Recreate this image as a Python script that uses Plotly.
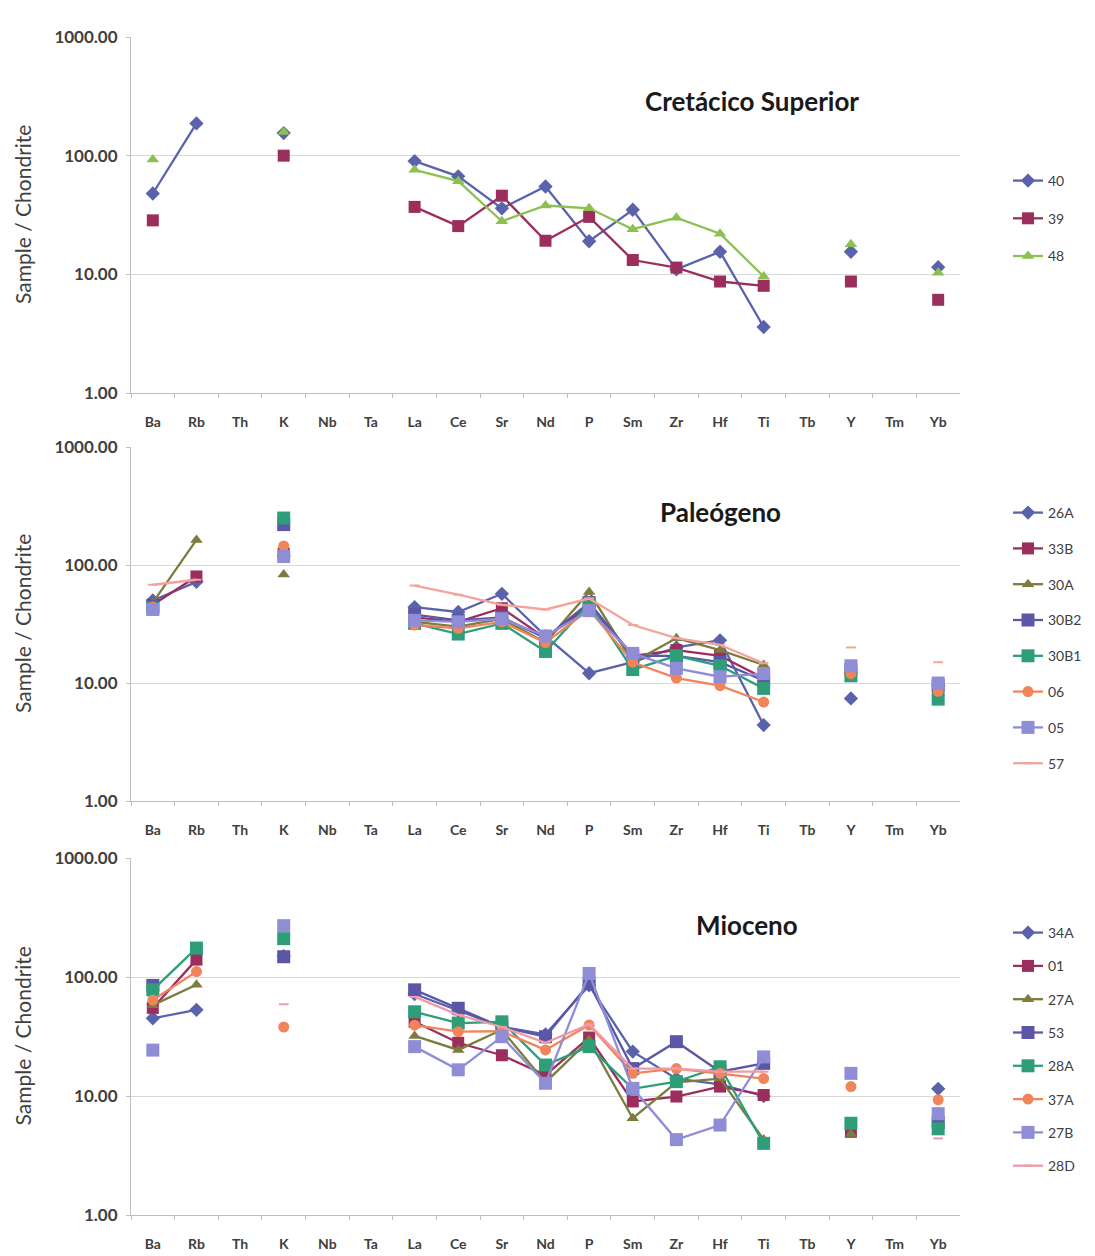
import plotly.graph_objects as go

# Trace elements normalised to chondrite
elements = ["Ba", "Rb", "Th", "K", "Nb", "Ta", "La", "Ce", "Sr", "Nd",
            "P", "Sm", "Zr", "Hf", "Ti", "Tb", "Y", "Tm", "Yb"]

y_tickvals = [1, 10, 100, 1000]
y_ticktext = ["1.00", "10.00", "100.00", "1000.00"]

# --- Cretácico Superior ---
cs_40 = [48, 187, None, 155, None, None, 90, 67, 36, 55, 19, 35, 11, 15.5, 3.6, None, 15.5, None, 11.5]
cs_39 = [28.5, None, None, 100, None, None, 37, 25.5, 46, 19.2, 30.5, 13.2, 11.4, 8.7, 8.0, None, 8.7, None, 6.1]
cs_48 = [93, None, None, 158, None, None, 76, 61, 28, 38, 36, 24, 30, 22, 9.6, None, 17.9, None, 10.3]

# --- Paleógeno ---
pg_26A = [50, 72, None, 120, None, None, 44, 40, 57, 25, 12.1, 15, 20, 23, 4.4, None, 7.4, None, 9.5]
pg_33B = [46, 80, None, 125, None, None, 36, 33, 43, 24, 45, 17, 19, 17, 11, None, 12.5, None, 8.7]
pg_30A = [48, 163, None, 83, None, None, 33, 30, 35, 22, 59, 15, 24, 19, 14.2, None, 12, None, 8.2]
pg_30B2 = [45, None, None, 220, None, None, 38, 34, 36, 24, 48, 17, 17, 15, 10.5, None, 13, None, 9.5]
pg_30B1 = [43, None, None, 250, None, None, 32, 26, 32, 18.5, 47, 13, 17, 14, 9.0, None, 11.5, None, 7.3]
pg_06 = [44, None, None, 145, None, None, 31, 29, 33, 22, 42, 15, 11, 9.5, 6.9, None, 12, None, 8.5]
pg_05 = [42, None, None, 118, None, None, 34, 33, 35, 25, 41, 17.8, 13.3, 11.3, 12, None, 14, None, 10]
pg_57 = [68, 75, None, None, None, None, 67, 56, 46, 42, 52, 31, 24, 21, 14.7, None, 20, None, 15]

# --- Mioceno ---
mi_34A = [45, 53, None, 150, None, None, 72, 52, 38, 33, 85, 23.6, 14, 12.5, 10, None, None, None, 11.5]
mi_01 = [55, 140, None, None, None, None, 42, 28, 22, 15, 31, 9, 9.9, 12, 10.2, None, 5, None, 6]
mi_27A = [58, 86, None, None, None, None, 32, 24.4, 36, 13, 29.5, 6.5, 13, 14, 4.3, None, 4.8, None, 5]
mi_53 = [85, None, None, 148, None, None, 78, 54.6, 38, 31.5, 88.5, 17, 28.6, 16, 18.8, None, None, None, 6]
mi_28A = [78, 175, None, 210, None, None, 51, 41, 42, 18.2, 26, 11.5, 13.2, 17.6, 4.0, None, 5.9, None, 5.3]
mi_37A = [64, 111, None, 38, None, None, 39.4, 34.7, 35, 24.4, 39.5, 15.5, 17, 15.5, 14, None, 12, None, 9.3]
mi_27B = [24.3, None, None, 270, None, None, 26, 16.6, 31.5, 12.8, 107, 11.6, 4.3, 5.7, 21.3, None, 15.5, None, 7.1]
mi_28D = [None, None, None, 59, None, None, 68, 48, 38, 28, 40, 17, 17, 16, 16, None, None, None, 4.4]

panel_titles = ["Cretácico Superior", "Paleógeno", "Mioceno"]

# series styles: (symbol, size, colour)
BLUE = ("diamond", 11, "#5a62ac")
MAGENTA = ("square", 12, "#9c2e5e")
LGREEN = ("triangle-up", 11, "#8cc152")
OLIVE = ("triangle-up", 11, "#7c7c3e")
PURPLE = ("square", 13, "#5b57a6")
TEAL = ("square", 13, "#2e9e78")
ORANGE = ("circle", 11, "#f0845a")
LAVENDER = ("square", 13, "#8e8dd6")
SALMON = ("line-ew", 7, "#f4a39b")
PINK = ("line-ew", 7, "#ee9ba8")

panels = [
    [("40", cs_40, BLUE), ("39", cs_39, MAGENTA), ("48", cs_48, LGREEN)],
    [("26A", pg_26A, BLUE), ("33B", pg_33B, MAGENTA), ("30A", pg_30A, OLIVE),
     ("30B2", pg_30B2, PURPLE), ("30B1", pg_30B1, TEAL), ("06", pg_06, ORANGE),
     ("05", pg_05, LAVENDER), ("57", pg_57, SALMON)],
    [("34A", mi_34A, BLUE), ("01", mi_01, MAGENTA), ("27A", mi_27A, OLIVE),
     ("53", mi_53, PURPLE), ("28A", mi_28A, TEAL), ("37A", mi_37A, ORANGE),
     ("27B", mi_27B, LAVENDER), ("28D", mi_28D, PINK)],
]

W, H = 1095, 1256


def py(y):
    """Pixel row -> paper fraction."""
    return 1 - y / H


def px(x):
    """Pixel column -> paper fraction."""
    return x / W


# plot-area boxes: (top, bottom)
boxes = [(37, 393), (447, 801), (858, 1215)]
x_left, x_right = 131, 960
legend_x = 1008
legend_tops = [165, 497, 917]
legend_gaps = [16.5, 14.6, 12.1]
title_pos = [(752, 101), (720, 512), (747, 925)]

FONT = "Lato, 'Open Sans', sans-serif"

fig = go.Figure()

for p, series in enumerate(panels):
    sfx = "" if p == 0 else str(p + 1)
    for name, vals, (sym, size, col) in series:
        is_line_only = sym == "line-ew"
        fig.add_trace(go.Scatter(
            x=elements, y=vals, name=name,
            xaxis="x" + sfx, yaxis="y" + sfx,
            legend="legend" + sfx, legendgroup=f"{p}-{name}",
            mode="lines+markers",
            line=dict(color=col, width=2.3),
            marker=dict(symbol=sym, size=size, color=col,
                        line=dict(color=col, width=2 if is_line_only else 0)),
            connectgaps=False,
        ))

layout = dict(
    width=W, height=H,
    margin=dict(l=0, r=0, t=0, b=0),
    paper_bgcolor="white", plot_bgcolor="white",
    font=dict(family=FONT, color="#404040"),
    annotations=[],
)

for p in range(3):
    sfx = "" if p == 0 else str(p + 1)
    top, bot = boxes[p]
    layout["xaxis" + sfx] = dict(
        domain=[px(x_left), px(x_right)], anchor="y" + sfx, automargin=False,
        type="category", categoryorder="array", categoryarray=elements,
        range=[-0.5, len(elements) - 0.5],
        showline=True, linecolor="#bfbfbf", linewidth=1,
        ticks="outside", tickson="boundaries", ticklen=4, tickcolor="#bfbfbf",
        ticklabelstandoff=16,
        showgrid=False, zeroline=False,
        tickfont=dict(family=FONT, size=14, color="#404040", weight="bold"),
    )
    layout["yaxis" + sfx] = dict(
        domain=[py(bot), py(top)], anchor="x" + sfx, automargin=False,
        type="log", range=[0, 3],
        tickvals=y_tickvals, ticktext=y_ticktext,
        showline=True, linecolor="#bfbfbf", linewidth=1,
        ticks="outside", ticklen=4, tickcolor="#bfbfbf",
        ticklabelstandoff=5,
        showgrid=True, gridcolor="#d9d9d9", gridwidth=1, zeroline=False,
        tickfont=dict(family=FONT, size=17, color="#404040", weight="bold"),
    )
    layout["legend" + sfx] = dict(
        x=px(legend_x), xanchor="left", y=py(legend_tops[p]), yanchor="top",
        traceorder="grouped", tracegroupgap=legend_gaps[p],
        bgcolor="rgba(0,0,0,0)", font=dict(family=FONT, size=14, color="#404040"),
    )
    tx, ty = title_pos[p]
    layout["annotations"].append(dict(
        text=panel_titles[p], x=px(tx), y=py(ty), xref="paper", yref="paper",
        xanchor="center", yanchor="middle", showarrow=False,
        font=dict(family=FONT, size=26, color="#1a1a1a", weight="bold"),
    ))
    layout["annotations"].append(dict(
        text="Sample / Chondrite", x=px(22), y=py((top + bot) / 2),
        xref="paper", yref="paper", xanchor="center", yanchor="middle",
        textangle=-90, showarrow=False,
        font=dict(family=FONT, size=21, color="#404040"),
    ))

fig.update_layout(**layout)
fig.write_html("out.html")
